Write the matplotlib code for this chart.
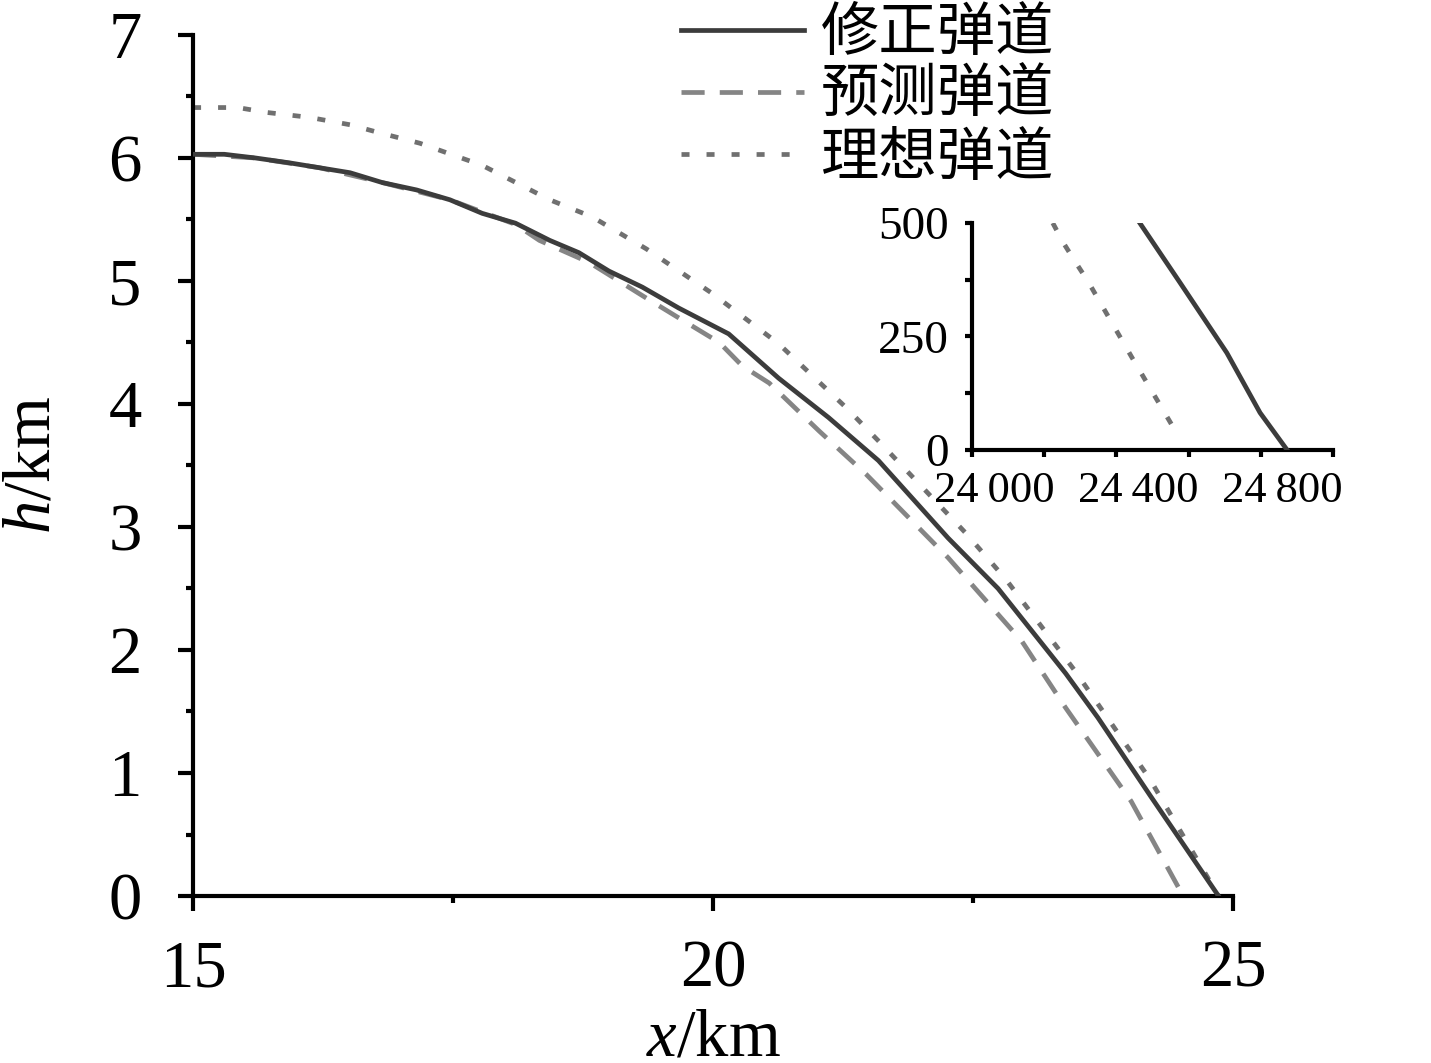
import numpy as np
import matplotlib
matplotlib.use('Agg')
import matplotlib.pyplot as plt
import matplotlib.transforms as mtransforms
from matplotlib.ticker import MultipleLocator, FixedLocator

plt.rcParams['font.family'] = ['Liberation Serif', 'DejaVu Serif']
plt.rcParams['mathtext.fontset'] = 'custom'
plt.rcParams['mathtext.rm'] = 'Liberation Serif'
plt.rcParams['mathtext.it'] = 'Liberation Serif:italic'

# Dados (km)
x_corr = [15.0, 15.3, 15.6, 15.93, 16.22, 16.51, 16.82, 17.15, 17.47, 17.78, 18.1,
          18.43, 18.71, 19.0, 19.32, 19.67, 20.15, 20.63, 21.11, 21.59, 22.26,
          22.74, 23.39, 23.7, 24.2, 24.86]
h_corr = [6.03, 6.03, 6.0, 5.96, 5.92, 5.88, 5.8, 5.74, 5.66, 5.55, 5.47,
          5.33, 5.23, 5.08, 4.95, 4.78, 4.57, 4.21, 3.89, 3.54, 2.91,
          2.5, 1.81, 1.45, 0.82, 0.0]

x_pred = [15.0, 15.6, 16.22, 16.82, 17.47, 18.1, 18.33, 18.81, 19.36, 19.67, 20.06,
          20.28, 20.54, 21.02, 21.47, 22.26, 22.97, 23.39, 24.02, 24.52]
h_pred = [6.03, 6.0, 5.92, 5.8, 5.66, 5.46, 5.33, 5.15, 4.86, 4.7, 4.5,
          4.31, 4.17, 3.78, 3.43, 2.75, 2.07, 1.53, 0.77, 0.0]

x_ideal = [15.0, 15.43, 15.71, 16.12, 16.51, 16.77, 17.18, 17.78, 18.43, 18.84, 19.36,
           19.99, 20.63, 21.28, 21.59, 22.43, 22.81, 23.48, 24.2, 24.86]
h_ideal = [6.41, 6.41, 6.37, 6.33, 6.27, 6.21, 6.12, 5.94, 5.66, 5.52, 5.26,
           4.9, 4.49, 3.97, 3.7, 2.95, 2.58, 1.83, 0.95, 0.0]

# Detalhe perto do solo (m)
xi_corr = [24465, 24576, 24706, 24798, 24873]
hi_corr = [500, 369, 214, 82, 0]
xi_ideal = [24224, 24252, 24285, 24321, 24382, 24443, 24501, 24562, 24572]
hi_ideal = [500, 458, 416, 372, 288, 204, 126, 44, 30]

labels = ['修正弹道', '预测弹道', '理想弹道']

c_corr = '#3c3c3c'
c_pred = '#858585'
c_ideal = '#707070'
ls_pred = (0, (4.9, 3.2))
ls_ideal = (0, (1.7, 3.6))
lw = 3.4

fig = plt.figure(figsize=(14.31, 10.63), dpi=100)
ax = fig.add_axes([0.1349, 0.1571, 0.7268, 0.8100])

l1, = ax.plot(x_corr, h_corr, color=c_corr, lw=lw, zorder=3)
l2, = ax.plot(x_pred, h_pred, color=c_pred, lw=lw, ls=ls_pred, zorder=2)
l3, = ax.plot(x_ideal, h_ideal, color=c_ideal, lw=lw, ls=ls_ideal, zorder=2)

ax.set_xlim(15, 25)
ax.set_ylim(0, 7)
for s in ['top', 'right']:
    ax.spines[s].set_visible(False)
for s in ['left', 'bottom']:
    ax.spines[s].set_linewidth(3)
ax.xaxis.set_major_locator(MultipleLocator(5))
ax.xaxis.set_minor_locator(MultipleLocator(2.5))
ax.yaxis.set_major_locator(MultipleLocator(1))
ax.yaxis.set_minor_locator(MultipleLocator(0.5))
ax.tick_params(which='major', direction='out', length=11, width=3, labelsize=48)
ax.tick_params(axis='x', which='major', pad=20)
ax.tick_params(axis='y', which='major', pad=26)
ax.tick_params(which='minor', direction='out', length=5, width=3)
ax.set_xlabel('$\\mathit{x}$/km', fontsize=48, labelpad=6)
ax.set_ylabel('$\\mathit{h}$/km', fontsize=48, labelpad=32)

leg = ax.legend([l1, l2, l3], labels, loc='upper left', bbox_to_anchor=(0.476, 0.997),
                bbox_transform=fig.transFigure, frameon=False, borderpad=0,
                borderaxespad=0, handlelength=2.1, handletextpad=0.3,
                labelspacing=0.02,
                prop={'family': ['Noto Sans CJK SC', 'DejaVu Sans'], 'size': 42})

# Inset
axi = fig.add_axes([0.6792, 0.5767, 0.2523, 0.2135])
axi.plot(xi_corr, hi_corr, color=c_corr, lw=lw, zorder=3)
axi.plot(xi_ideal, hi_ideal, color=c_ideal, lw=lw, ls=ls_ideal)
axi.set_xlim(24000, 25000)
axi.set_ylim(0, 500)
for s in ['top', 'right']:
    axi.spines[s].set_visible(False)
for s in ['left', 'bottom']:
    axi.spines[s].set_linewidth(3)
axi.xaxis.set_major_locator(FixedLocator([24000, 24400, 24800]))
axi.xaxis.set_minor_locator(FixedLocator([24200, 24600, 25000]))
axi.yaxis.set_major_locator(FixedLocator([0, 250, 500]))
axi.yaxis.set_minor_locator(FixedLocator([125, 375]))
axi.xaxis.set_major_formatter(lambda v, p: f'{int(v) // 1000}\u2009{int(v) % 1000:03d}')
axi.tick_params(which='both', direction='out', length=5, width=3)
axi.tick_params(axis='y', labelsize=34, pad=12)
axi.tick_params(axis='x', labelsize=32, pad=10)
shift = mtransforms.ScaledTranslation(22 / 100, 0, fig.dpi_scale_trans)
for lab in axi.get_xticklabels():
    lab.set_transform(lab.get_transform() + shift)
axi.patch.set_alpha(0)

fig.savefig('out.png', dpi=100)
